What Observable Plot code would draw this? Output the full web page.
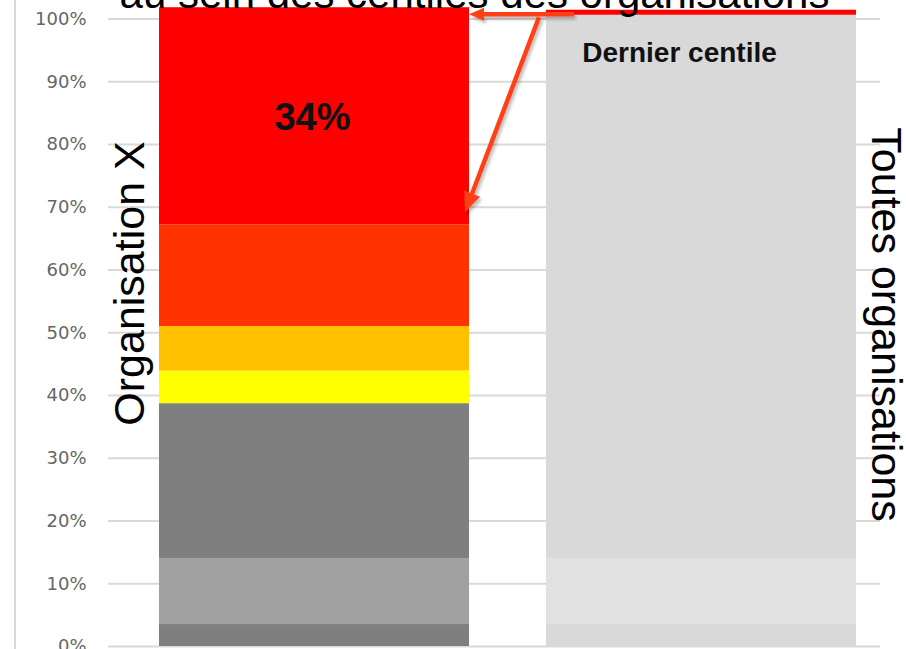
<!DOCTYPE html>
<html>
<head>
<meta charset="utf-8">
<script src="https://cdn.jsdelivr.net/npm/d3@7"></script>
<script src="https://cdn.jsdelivr.net/npm/@observablehq/plot@0.6"></script>
<style>
  html, body { margin: 0; padding: 0; background: #fff; overflow: hidden; }
  #chart svg { display: block; }
  g[aria-label="y-axis tick label"] text { font-family: "DejaVu Sans", sans-serif; }
</style>
</head>
<body>
<div id="chart"></div>
<script>
// ---- data ----
const categories = ["Organisation X", "Toutes organisations"];
const orgXShares = [0.035, 0.105, 0.247, 0.052, 0.071, 0.162, 0.346];
const orgXColors = ["#7f7f7f", "#a0a0a0", "#7f7f7f", "#ffff00", "#ffc000", "#ff3300", "#ff0000"];
const allOrgShares = [0.035, 0.105, 0.866, 0.008];
const allOrgColors = ["#d9d9d9", "#e1e1e1", "#d9d9d9", "#ff0000"];
const yTicks = [0, 0.1, 0.2, 0.3, 0.4, 0.5, 0.6, 0.7, 0.8, 0.9, 1];
const yTickLabels = ["0%", "10%", "20%", "30%", "40%", "50%", "60%", "70%", "80%", "90%", "100%"];
const titleText = "au sein des centiles des organisations";
const orgXTopLabel = "34%";
const allOrgTopLabel = "Dernier centile";

function stackRows(category, shares, colors) {
  let acc = 0;
  return shares.map((v, i) => {
    const r = {category, segment: i, y1: acc, y2: acc + v, color: colors[i]};
    acc += v;
    return r;
  });
}
const orgXRows = stackRows(categories[0], orgXShares, orgXColors);
const allOrgRows = stackRows(categories[1], allOrgShares, allOrgColors);
const rows = [...orgXRows, ...allOrgRows];
const orgXTop = orgXRows[orgXRows.length - 1];
const allOrgTop = allOrgRows[allOrgRows.length - 1];

const plot = Plot.plot({
  width: 906,
  height: 649,
  marginTop: 0,
  marginBottom: 3,
  marginLeft: 108,
  marginRight: 26,
  style: {fontFamily: "'Liberation Sans', Arial, sans-serif", background: "#fff", overflow: "hidden"},
  x: {domain: categories, range: [119.5, 894.5], paddingInner: 0.2, paddingOuter: 0.1, axis: null},
  y: {domain: [0, 1.0295]},
  marks: [
    Plot.ruleY(yTicks, {stroke: "#d9d9d9", strokeWidth: 2}),
    Plot.axisY(yTicks, {
      tickFormat: d => yTickLabels[yTicks.indexOf(d)],
      tickSize: 0, tickPadding: 22, fontSize: 18, color: "#666", label: null
    }),
    Plot.barY(rows, {x: "category", y1: "y1", y2: "y2", fill: "color"}),
    Plot.text([orgXTop], {
      x: "category", y: d => (d.y1 + d.y2) / 2, text: () => orgXTopLabel,
      fontSize: 38, fontWeight: "bold", fill: "#111", dx: -2, dy: 2
    }),
    Plot.text([allOrgTop], {
      x: "category", y: "y1", text: () => allOrgTopLabel,
      fontSize: 28, fontWeight: "bold", fill: "#111", dx: -22, dy: 38
    }),
    Plot.text([categories[0]], {
      x: d => d, frameAnchor: "middle", text: d => d, rotate: -90,
      fontSize: 43, fill: "#000", dx: -184, dy: -40
    }),
    Plot.text([categories[1]], {
      x: d => d, frameAnchor: "middle", text: d => d, rotate: 90,
      fontSize: 43, fill: "#000", dx: 184, dy: 1
    }),
    Plot.text([titleText], {
      frameAnchor: "top", text: d => d, lineAnchor: "bottom",
      fontSize: 42, fill: "#000", dx: -20, dy: 7
    })
  ]
});

document.getElementById("chart").appendChild(plot);

// ---- annotations: chart border line and arrows, placed through Plot's scales ----
const svg = d3.select(plot);
const xs = plot.scale("x");
const ys = plot.scale("y");
const leftEnd = xs.apply(categories[0]) + xs.bandwidth;
const rightStart = xs.apply(categories[1]);

svg.insert("line", ":first-child")
  .attr("x1", 15).attr("x2", 15).attr("y1", 0).attr("y2", 649)
  .attr("stroke", "#d9d9d9").attr("stroke-width", 2);

const defs = svg.append("defs");
const filt = defs.append("filter").attr("id", "arrowShadow")
  .attr("x", "-20%").attr("y", "-20%").attr("width", "140%").attr("height", "140%");
filt.append("feDropShadow").attr("dx", 2).attr("dy", 3).attr("stdDeviation", 1.5)
  .attr("flood-color", "#000").attr("flood-opacity", 0.25);

const arrowColor = "#ff4015";
const g = svg.append("g").attr("filter", "url(#arrowShadow)");
function drawArrow(x1, y1, x2, y2, headLen, headHalf, width) {
  const dx = x2 - x1, dy = y2 - y1, L = Math.hypot(dx, dy);
  const ux = dx / L, uy = dy / L;
  const bx = x2 - ux * headLen, by = y2 - uy * headLen;
  g.append("line")
    .attr("x1", x1).attr("y1", y1).attr("x2", bx + ux).attr("y2", by + uy)
    .attr("stroke", arrowColor).attr("stroke-width", width);
  g.append("polygon")
    .attr("points", [[x2, y2], [bx - uy * headHalf, by + ux * headHalf], [bx + uy * headHalf, by - ux * headHalf]].map(p => p.join(",")).join(" "))
    .attr("fill", arrowColor);
}
const startY = ys.apply((allOrgTop.y1 + allOrgTop.y2) / 2) + 2;
drawArrow(rightStart + 28, startY, leftEnd, startY, 15, 6.5, 4.5);
drawArrow(rightStart - 7, startY + 3, leftEnd - 4, ys.apply(orgXTop.y1) - 12, 20, 8.5, 4.5);
</script>
</body>
</html>
